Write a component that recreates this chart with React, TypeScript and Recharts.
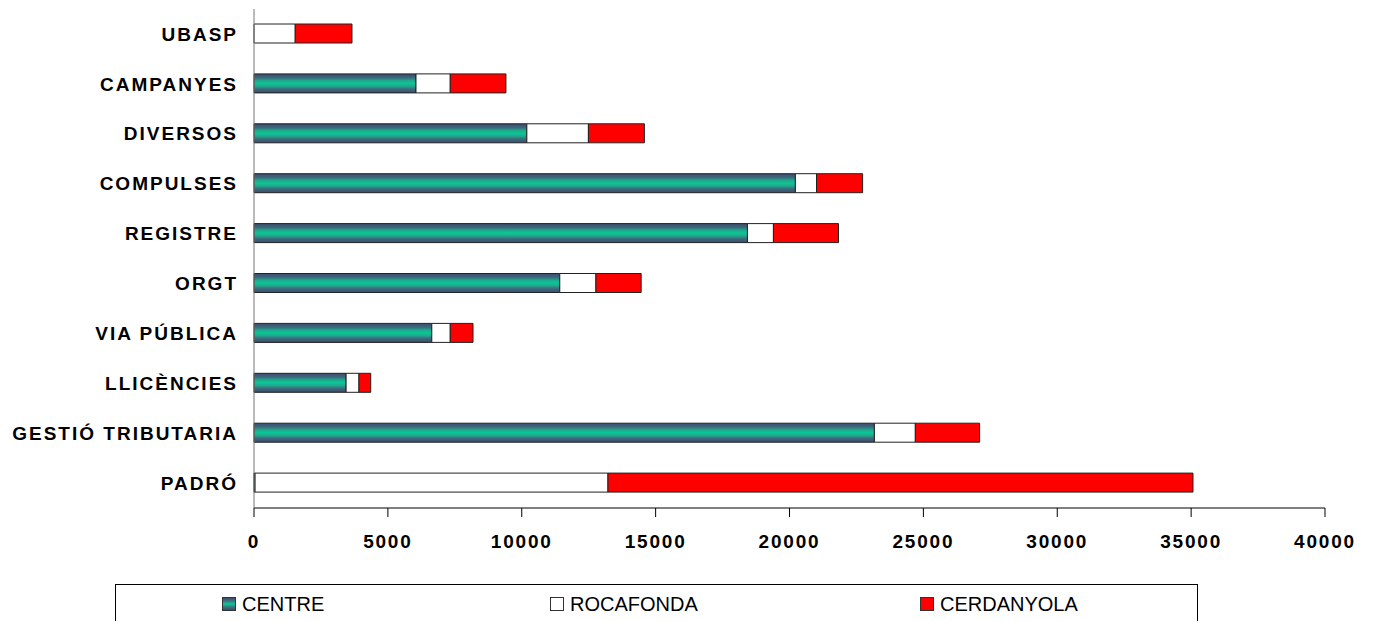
import { Bar, BarChart, XAxis, YAxis } from 'recharts';

const categories = [
  'UBASP',
  'CAMPANYES',
  'DIVERSOS',
  'COMPULSES',
  'REGISTRE',
  'ORGT',
  'VIA PÚBLICA',
  'LLICÈNCIES',
  'GESTIÓ TRIBUTARIA',
  'PADRÓ',
];
const centre = [0, 6050, 10190, 20220, 18430, 11420, 6640, 3440, 23170, 40];
const rocafonda = [1540, 1280, 2300, 790, 970, 1350, 690, 480, 1530, 13180];
const cerdanyola = [2120, 2080, 2090, 1720, 2430, 1690, 850, 440, 2400, 21850];
const xTicks = [0, 5000, 10000, 15000, 20000, 25000, 30000, 35000, 40000];

const data = categories.map((name, i) => ({
  name,
  centre: centre[i],
  rocafonda: rocafonda[i],
  cerdanyola: cerdanyola[i],
}));

const font = "'Liberation Sans', Arial, sans-serif";
const centreGradient =
  'linear-gradient(to bottom, #3f4a6e 0%, #3a7480 25%, #0cc896 50%, #3a7480 75%, #3f4a6e 100%)';

const legendItems = [
  { label: 'CENTRE', left: 222, fill: centreGradient },
  { label: 'ROCAFONDA', left: 550, fill: '#ffffff' },
  { label: 'CERDANYOLA', left: 920, fill: '#ff0000' },
];

export default function App() {
  return (
    <div style={{ position: 'absolute', left: 0, top: 0, width: 1374, height: 621, overflow: 'hidden', background: '#fff' }}>
      <BarChart
        width={1374}
        height={621}
        data={data}
        layout="vertical"
        margin={{ top: 9, right: 49, bottom: 0, left: 0 }}
        barSize={19}
      >
        <defs>
          <linearGradient id="centreGrad" x1="0" y1="0" x2="0" y2="1">
            <stop offset="0%" stopColor="#3f4a6e" />
            <stop offset="20%" stopColor="#3b6a7c" />
            <stop offset="35%" stopColor="#22a68c" />
            <stop offset="50%" stopColor="#07c896" />
            <stop offset="65%" stopColor="#22a68c" />
            <stop offset="80%" stopColor="#3b6a7c" />
            <stop offset="100%" stopColor="#3f4a6e" />
          </linearGradient>
        </defs>
        <XAxis
          type="number"
          domain={[0, 40000]}
          ticks={xTicks}
          interval={0}
          height={113}
          tickSize={9}
          tickMargin={18}
          axisLine={{ stroke: '#000' }}
          tickLine={{ stroke: '#000' }}
          tick={{ fill: '#000', fontSize: 19, fontWeight: 'bold', fontFamily: font, letterSpacing: 1.8 }}
        />
        <YAxis
          type="category"
          dataKey="name"
          width={254}
          tickSize={0}
          tickMargin={16}
          interval={0}
          axisLine={{ stroke: '#777' }}
          tickLine={false}
          tick={{ fill: '#000', fontSize: 19, fontWeight: 'bold', fontFamily: font, letterSpacing: 2 }}
        />
        <Bar dataKey="centre" stackId="a" fill="url(#centreGrad)" stroke="#222" strokeWidth={1} isAnimationActive={false} />
        <Bar dataKey="rocafonda" stackId="a" fill="#ffffff" stroke="#222" strokeWidth={1} isAnimationActive={false} />
        <Bar dataKey="cerdanyola" stackId="a" fill="#ff0000" stroke="#222" strokeWidth={1} isAnimationActive={false} />
      </BarChart>
      <div
        style={{
          position: 'absolute',
          left: 115,
          top: 584,
          width: 1083,
          height: 80,
          border: '1px solid #000',
          boxSizing: 'border-box',
        }}
      />
      {legendItems.map((item) => (
        <div
          key={item.label}
          style={{ position: 'absolute', left: item.left, top: 594, height: 20, display: 'flex', alignItems: 'center' }}
        >
          <span
            style={{
              display: 'inline-block',
              width: 14,
              height: 14,
              boxSizing: 'border-box',
              border: '1px solid #333',
              background: item.fill,
            }}
          />
          <span style={{ marginLeft: 6, fontFamily: font, fontSize: 20, color: '#000', lineHeight: '20px' }}>
            {item.label}
          </span>
        </div>
      ))}
    </div>
  );
}
